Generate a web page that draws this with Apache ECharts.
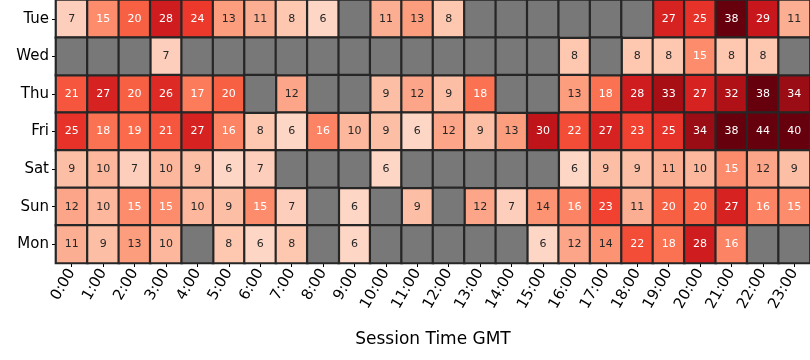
<!DOCTYPE html>
<html>
<head>
<meta charset="utf-8">
<script src="https://cdn.jsdelivr.net/npm/echarts@6/dist/echarts.min.js"></script>
<style>html,body{margin:0;padding:0;background:#fff;}#c{width:810px;height:360px;}</style>
</head>
<body>
<div id="c"></div>
<script>
const hours = ['0:00','1:00','2:00','3:00','4:00','5:00','6:00','7:00','8:00','9:00','10:00','11:00','12:00','13:00','14:00','15:00','16:00','17:00','18:00','19:00','20:00','21:00','22:00','23:00'];
const days = ['Tue','Wed','Thu','Fri','Sat','Sun','Mon'];
const N = null;
const tue = [7,15,20,28,24,13,11,8,6,N,11,13,8,N,N,N,N,N,N,27,25,38,29,11];
const wed = [N,N,N,7,N,N,N,N,N,N,N,N,N,N,N,N,8,N,8,8,15,8,8,N];
const thu = [21,27,20,26,17,20,N,12,N,N,9,12,9,18,N,N,13,18,28,33,27,32,38,34];
const fri = [25,18,19,21,27,16,8,6,16,10,9,6,12,9,13,30,22,27,23,25,34,38,44,40];
const sat = [9,10,7,10,9,6,7,N,N,N,6,N,N,N,N,N,6,9,9,11,10,15,12,9];
const sun = [12,10,15,15,10,9,15,7,N,6,N,9,N,12,7,14,16,23,11,20,20,27,16,15];
const mon = [11,9,13,10,N,8,6,8,N,6,N,N,N,N,N,6,12,14,22,18,28,16,N,N];
const rows = [tue, wed, thu, fri, sat, sun, mon];

const present = [], missing = [];
rows.forEach((r, yi) => r.forEach((v, xi) => {
  if (v === null) missing.push([xi, yi, 0]);
  else present.push({value: [xi, yi, v], label: {color: v >= 15 ? '#ffffff' : '#262626'}});
}));

const font = 'DejaVu Sans';
const chart = echarts.init(document.getElementById('c'), null, {renderer: 'canvas'});
chart.setOption({
  animation: false,
  grid: {left: 56, right: 0, top: 0, bottom: 97},
  xAxis: {
    type: 'category', data: hours,
    axisLine: {show: false},
    axisTick: {show: true, alignWithLabel: true, length: 4, lineStyle: {color: '#000'}},
    axisLabel: {rotate: 60, fontSize: 15, color: '#000', fontFamily: font, margin: 7, interval: 0},
    splitLine: {show: false},
    name: 'Session Time GMT', nameLocation: 'middle', nameGap: 68,
    nameTextStyle: {fontSize: 17, color: '#000', fontFamily: font}
  },
  yAxis: {
    type: 'category', data: days, inverse: true,
    axisLine: {show: false},
    axisTick: {show: true, alignWithLabel: true, length: 4, lineStyle: {color: '#000'}},
    axisLabel: {fontSize: 15, color: '#000', fontFamily: font, margin: 7},
    splitLine: {show: false}
  },
  visualMap: {
    show: false, seriesIndex: 0, dimension: 2, min: 0, max: 38,
    inRange: {color: ['#fff5f0','#fee0d2','#fcbba1','#fc9272','#fb6a4a','#ef3b2c','#cb181d','#a50f15','#67000d']}
  },
  series: [
    {
      type: 'heatmap', data: present,
      itemStyle: {borderColor: '#262626', borderWidth: 2.2},
      label: {show: true, fontSize: 11, fontFamily: font}
    },
    {
      type: 'heatmap', data: missing,
      itemStyle: {color: '#787878', borderColor: '#262626', borderWidth: 2.2},
      label: {show: false}
    }
  ]
});
</script>
</body>
</html>
